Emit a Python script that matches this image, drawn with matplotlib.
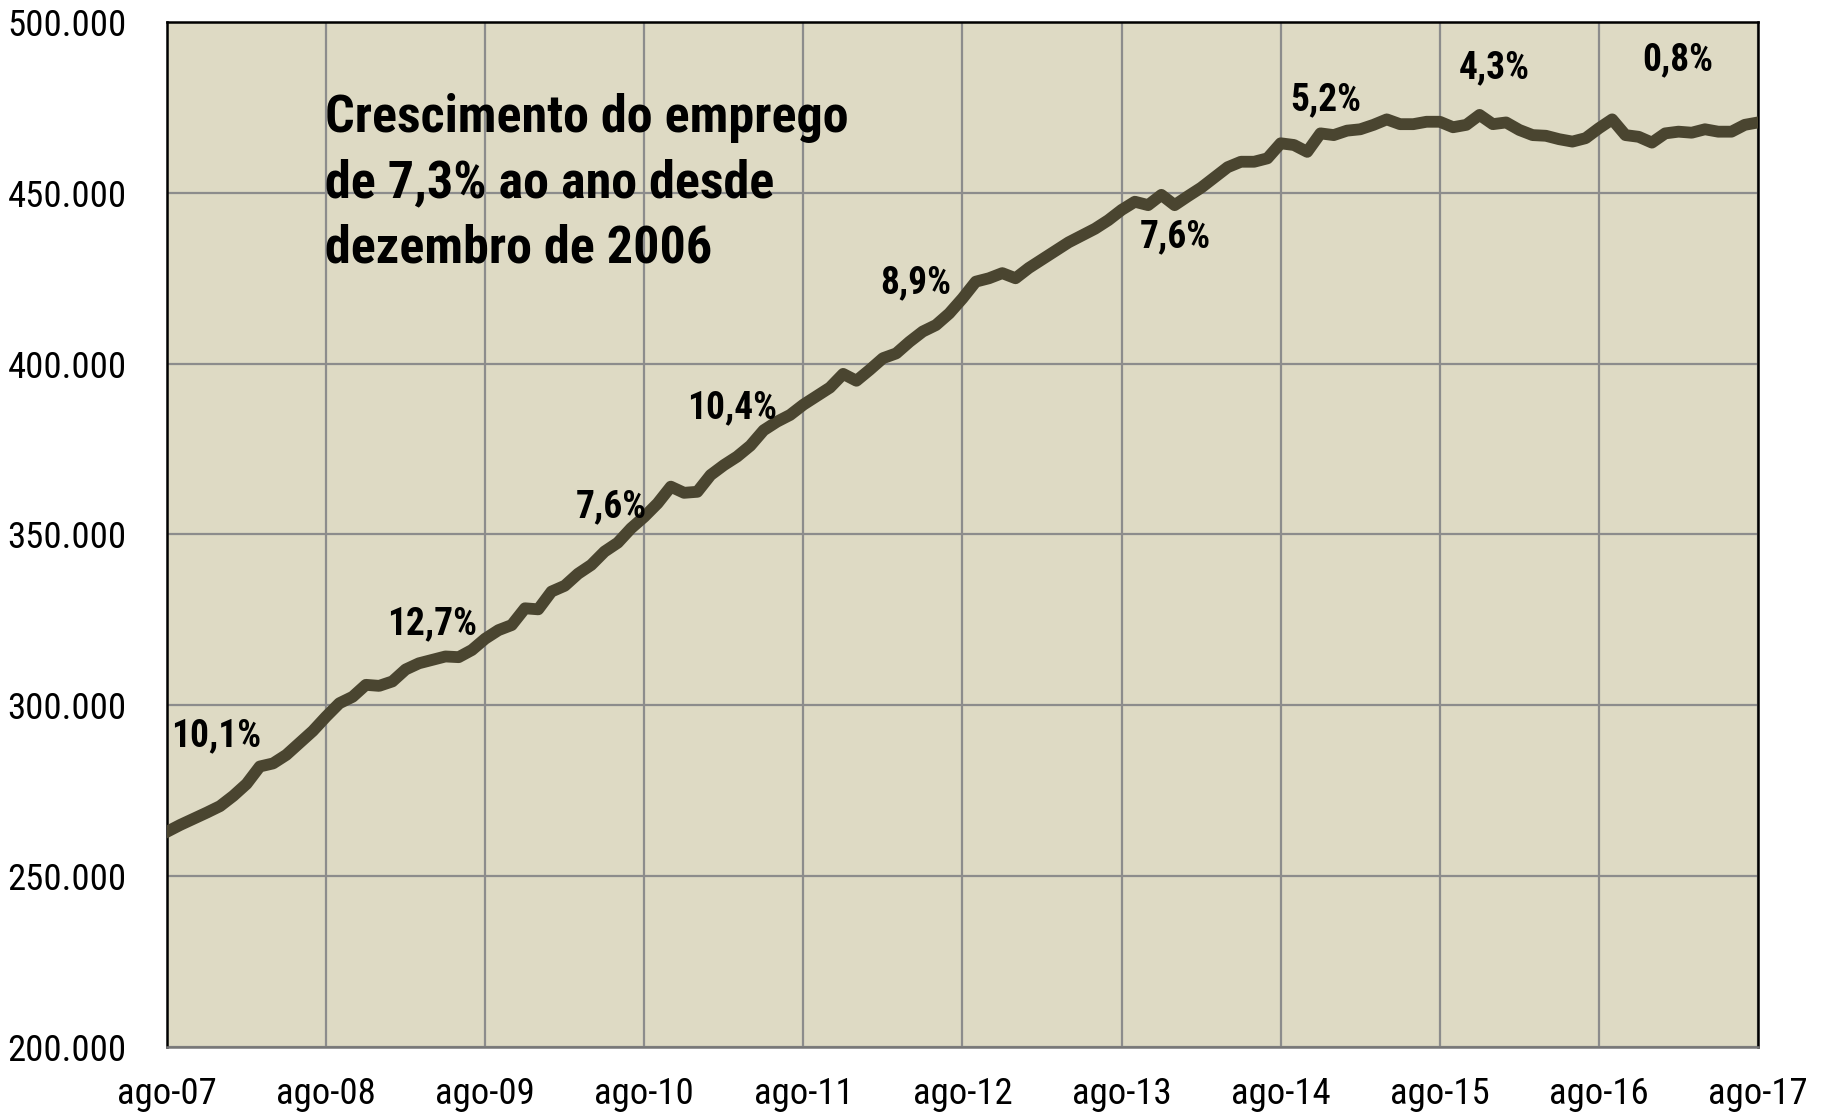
import matplotlib
matplotlib.use("Agg")
import matplotlib.pyplot as plt
from matplotlib import font_manager
from matplotlib.ticker import FuncFormatter

# emprego mensal (milhares), ago-07 .. ago-17
emprego = [
    263.0, 265.0, 266.8, 268.6, 270.5, 273.5, 277.0, 282.1, 283.0, 285.5,
    289.0, 292.5, 296.7, 300.6, 302.5, 306.0, 305.7, 307.0, 310.5, 312.3,
    313.3, 314.3, 314.1, 316.2, 319.5, 322.0, 323.5, 328.4, 328.1, 333.3,
    335.0, 338.5, 341.1, 345.0, 347.6, 351.8, 355.2, 359.1, 364.0, 362.2,
    362.5, 367.4, 370.3, 372.8, 376.0, 380.5, 383.0, 385.0, 388.0, 390.5,
    393.0, 397.0, 395.0, 398.2, 401.6, 403.0, 406.4, 409.4, 411.3, 414.7,
    419.1, 424.0, 425.0, 426.5, 425.0, 428.0, 430.5, 433.0, 435.5, 437.5,
    439.5, 442.0, 445.0, 447.4, 446.4, 449.4, 446.4, 449.0, 451.5, 454.5,
    457.5, 459.1, 459.1, 460.1, 464.5, 464.0, 462.0, 467.4, 466.9, 468.2,
    468.6, 469.9, 471.5, 470.1, 470.1, 470.8, 470.8, 469.2, 469.9, 472.8,
    470.1, 470.6, 468.4, 466.9, 466.7, 465.7, 465.0, 466.0, 468.9, 471.5,
    466.9, 466.4, 464.7, 467.4, 467.9, 467.6, 468.6, 467.9, 467.9, 469.9,
    470.6,
]
emprego = [v * 1000 for v in emprego]
meses = list(range(len(emprego)))

rotulos_x = ["ago-07", "ago-08", "ago-09", "ago-10", "ago-11", "ago-12",
             "ago-13", "ago-14", "ago-15", "ago-16", "ago-17"]
ticks_y = [200000, 250000, 300000, 350000, 400000, 450000, 500000]

# taxas anuais e onde ficam (mes, valor)
taxas = ["10,1%", "12,7%", "7,6%", "10,4%", "8,9%", "7,6%", "5,2%", "4,3%", "0,8%"]
taxa_x = [0.3, 16.6, 30.8, 39.2, 53.8, 73.4, 84.7, 97.4, 111.3]
taxa_y = [291000, 323800, 358100, 387000, 423600, 437100, 477200, 486500, 488900]

titulo = "Crescimento do emprego\nde 7,3% ao ano desde\ndezembro de 2006"

# fonte estreita se houver, senao Liberation Sans um pouco menor
nomes = {f.name for f in font_manager.fontManager.ttflist}
estreitas = [n for n in ["Liberation Sans Narrow", "Arial Narrow", "Roboto Condensed",
                         "Open Sans Condensed"] if n in nomes]
if estreitas:
    plt.rcParams['font.family'] = [estreitas[0], "DejaVu Sans"]
    tam_tick, tam_taxa, tam_tit, esp = 26.5, 27, 37.5, 1.40
else:
    plt.rcParams['font.family'] = ["Liberation Sans", "DejaVu Sans"]
    tam_tick, tam_taxa, tam_tit, esp = 22.5, 22, 32, 1.58

fig = plt.figure(figsize=(18.23, 11.16), dpi=100)
ax = fig.add_axes([167/1823, 1-1047/1116, (1758-167)/1823, (1047-22)/1116])
ax.set_facecolor("#dedac4")

ax.plot(meses, emprego, color="#4a4530", lw=8.5, solid_joinstyle="round", zorder=3)

ax.set_xlim(0, 120)
ax.set_ylim(200000, 500000)
ax.set_xticks(range(0, 121, 12))
ax.set_xticklabels(rotulos_x)
ax.set_yticks(ticks_y)
ax.yaxis.set_major_formatter(FuncFormatter(lambda v, p: f"{int(v):,}".replace(",", ".")))
ax.tick_params(axis="both", length=0, labelsize=tam_tick, colors="black")
ax.tick_params(axis="y", pad=29)
ax.tick_params(axis="x", pad=21)
ax.grid(True, color="#8c8c8c", lw=1.6, zorder=1)
for s in ["left", "top", "right"]:
    ax.spines[s].set_color("black")
    ax.spines[s].set_linewidth(1.8)
ax.spines["bottom"].set_color("#777777")
ax.spines["bottom"].set_linewidth(1.8)

for t, x, y in zip(taxas, taxa_x, taxa_y):
    ax.text(x, y, t, fontsize=tam_taxa, fontweight="bold", ha="left", va="center", zorder=4)

ax.text(11.9, 452800, titulo, fontsize=tam_tit, fontweight="bold", ha="left", va="center",
        linespacing=esp, zorder=4)

fig.savefig("out.png", dpi=100)
